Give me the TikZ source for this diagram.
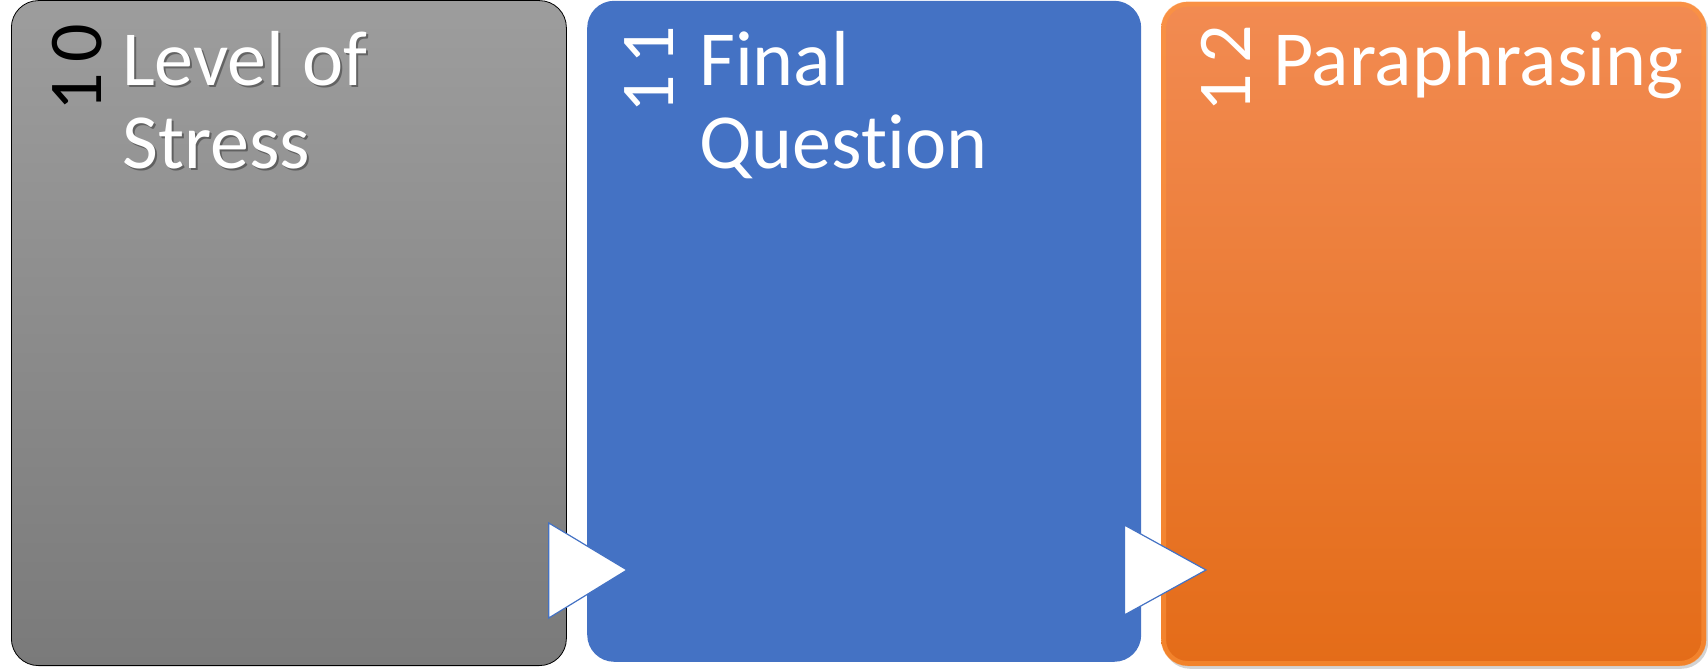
\documentclass[tikz,border=0pt]{standalone}
\usepackage{fontspec}
\setmainfont[Ligatures={NoCommon}]{Carlito}
\newfontfamily\numfont[LetterSpace=14]{Carlito}
\usetikzlibrary{positioning,calc,shadows}
\definecolor{graytop}{RGB}{157,157,157}
\definecolor{graybot}{RGB}{122,122,122}
\definecolor{cardblue}{RGB}{68,114,196}
\definecolor{orangetop}{RGB}{242,139,82}
\definecolor{orangemid}{RGB}{244,127,46}
\definecolor{orangebot}{RGB}{228,108,24}
\definecolor{orangerim}{RGB}{255,150,60}

\tikzset{
  card/.style={rectangle, rounded corners=27pt, inner sep=0pt, anchor=south west},
  title/.style={text=white, font=\fontsize{78}{83}\selectfont, align=left,
    inner sep=0pt, anchor=north west},
  num/.style={font=\numfont\fontsize{76}{76}\selectfont, rotate=90, inner sep=0pt},
  chevron/.style={fill=white, draw=cardblue, line width=1.2pt, line join=miter},
}

\begin{document}
\begin{tikzpicture}[x=1pt,y=1pt]
\useasboundingbox (0,0) rectangle (1708,670);
% the three cards
\node[card, minimum width=555pt, minimum height=665pt, top color=graytop,
  bottom color=graybot, draw=black, line width=0.8pt] (gray) at (11,4) {};
\node[card, minimum width=554pt, minimum height=661pt, fill=cardblue] (blue) at (587,8) {};
\node[card, minimum width=545pt, minimum height=664pt, top color=orangetop,
  middle color=orangemid, bottom color=orangebot,
  drop shadow={shadow xshift=2pt, shadow yshift=-3pt, opacity=0.35}] (orange) at (1161,4) {};
\draw[orangerim, line width=5pt, opacity=0.55, rounded corners=24pt]
  ([shift={(2.5,2.5)}]orange.south west) rectangle ([shift={(-2.5,-2.5)}]orange.north east);

% numbers
\node[num] (n10) at (77,602) {10};
\node[num, text=white] (n11) at (649,600) {11};
\node[num, text=white] (n12) at (1226,601) {12};

% titles
\node[title, text=black, opacity=0.35] at (124,637) {Level of\\Stress};
\node[title] (t10) at (122,639) {Level of\\Stress};
\node[title] (t11) at (699,639) {Final\\Question};
\node[title] (t12) at (1273,639) {Paraphrasing};

% arrows between cards
\draw[chevron] ($(gray.south east)+(-18,143)$) -- ($(gray.south east)+(-18,48)$)
  -- ($(blue.south west)+(40,92)$) -- cycle;
\draw[chevron] ($(blue.south east)+(-17,137)$) -- ($(blue.south east)+(-17,47)$)
  -- ($(orange.south west)+(45,96)$) -- cycle;
\end{tikzpicture}
\end{document}
